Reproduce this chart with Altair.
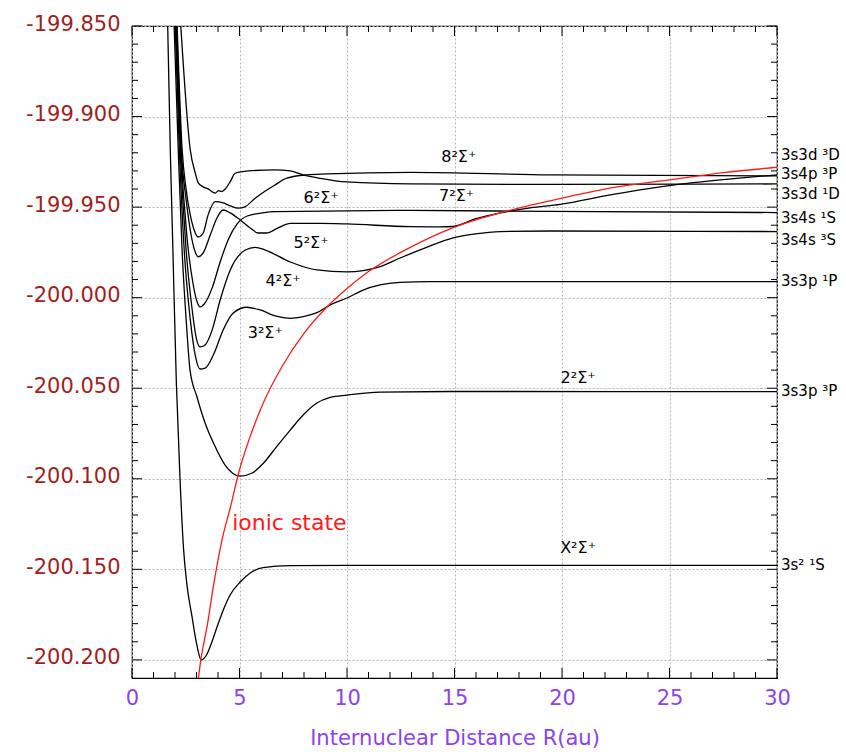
import altair as alt
import pandas as pd

W, H = 645, 652

# ---------------- data ----------------
x_X = [1.66, 1.78, 1.89, 2.06, 2.24, 2.40, 2.55, 2.79, 3.02, 3.22, 3.48, 3.72, 3.95, 4.26, 4.57, 5.03, 5.50, 6.10, 7.36, 10.0, 30.0]
y_X = [-199.850, -199.918, -199.968, -200.046, -200.102, -200.139, -200.158, -200.176, -200.192, -200.200, -200.197, -200.190, -200.182, -200.172, -200.164, -200.157, -200.152, -200.149, -200.148, -200.1478, -200.1478]

x_2 = [1.96, 2.15, 2.33, 2.52, 2.70, 3.02, 3.40, 3.79, 4.33, 5.03, 5.59, 6.12, 6.71, 7.36, 7.96, 8.60, 9.22, 10.0, 11.54, 14.8, 30.0]
y_2 = [-199.850, -199.918, -199.974, -200.0123, -200.040, -200.0547, -200.0692, -200.0803, -200.0924, -200.0985, -200.0968, -200.0913, -200.0825, -200.0731, -200.0648, -200.0582, -200.0551, -200.0538, -200.0521, -200.0518, -200.0519]

x_3 = [2.01, 2.20, 2.43, 2.71, 2.94, 3.17, 3.40, 3.78, 4.24, 4.71, 5.34, 5.96, 6.66, 7.36, 7.96, 8.60, 9.22, 10.0, 10.75, 11.54, 12.47, 13.87, 30.0]
y_3 = [-199.850, -199.918, -199.974, -200.012, -200.0317, -200.0394, -200.0389, -200.0317, -200.0178, -200.0085, -200.0053, -200.0068, -200.0101, -200.0114, -200.0105, -200.0083, -200.0040, -200.0002, -199.9958, -199.9930, -199.9916, -199.9911, -199.9911]

x_4 = [2.03, 2.24, 2.52, 2.80, 2.99, 3.17, 3.40, 3.73, 4.10, 4.57, 5.27, 5.73, 6.20, 7.36, 8.60, 10.0, 10.75, 11.54, 12.47, 13.64, 14.94, 15.96, 17.13, 19.45, 30.0]
y_4 = [-199.850, -199.918, -199.974, -200.0068, -200.0223, -200.0272, -200.0261, -200.0178, -200.0013, -199.9847, -199.9737, -199.9722, -199.9737, -199.9803, -199.9847, -199.9858, -199.9851, -199.9829, -199.9781, -199.9725, -199.9670, -199.9648, -199.9635, -199.9632, -199.9635]

x_5 = [2.06, 2.27, 2.57, 2.85, 3.03, 3.17, 3.36, 3.73, 4.10, 4.47, 4.89, 5.36, 6.06, 6.66, 12.94, 19.45, 30.0]
y_5 = [-199.850, -199.918, -199.968, -199.993, -200.0024, -200.0051, -200.0035, -199.9946, -199.9803, -199.9681, -199.9593, -199.9549, -199.9532, -199.9525, -199.9518, -199.9524, -199.9530]

x_6 = [2.08, 2.29, 2.52, 2.75, 2.94, 3.08, 3.31, 3.64, 3.95, 4.24, 4.57, 5.03, 5.50, 5.87, 6.24, 6.80, 7.36, 8.75, 10.0, 12.94, 14.33, 14.94, 15.96, 17.13, 18.52, 19.92, 22.24, 24.57, 27.36, 30.0]
y_6 = [-199.850, -199.918, -199.946, -199.9654, -199.9748, -199.9774, -199.9753, -199.9654, -199.9560, -199.9516, -199.9532, -199.9571, -199.9615, -199.9643, -199.9643, -199.9615, -199.9590, -199.9590, -199.9593, -199.9608, -199.9609, -199.9607, -199.9565, -199.9532, -199.9504, -199.9485, -199.9433, -199.9388, -199.9350, -199.9322]

x_7 = [2.10, 2.33, 2.52, 2.71, 2.89, 3.08, 3.31, 3.54, 3.87, 4.24, 4.57, 4.94, 5.27, 5.73, 6.20, 6.66, 7.20, 8.13, 9.07, 12.94, 19.45, 30.0]
y_7 = [-199.850, -199.918, -199.9405, -199.9543, -199.9626, -199.9665, -199.9643, -199.9543, -199.9470, -199.9477, -199.9493, -199.9506, -199.9497, -199.9451, -199.9411, -199.9377, -199.9340, -199.9322, -199.9317, -199.9308, -199.9322, -199.9328]

x_8 = [2.27, 2.71, 2.94, 3.09, 3.31, 3.56, 3.87, 4.02, 4.18, 4.33, 4.57, 4.80, 5.42, 6.66, 7.36, 7.96, 8.75, 10.0, 12.94, 19.45, 30.0]
y_8 = [-199.850, -199.9184, -199.9311, -199.9368, -199.9388, -199.9401, -199.9423, -199.9409, -199.9414, -199.9401, -199.9359, -199.9313, -199.9300, -199.9294, -199.9300, -199.9322, -199.9341, -199.9361, -199.9372, -199.9375, -199.9372]

x_ionic = [3.09, 3.20, 3.50, 3.79, 4.20, 4.57, 5.0, 5.5, 6.0, 7.0, 8.0, 9.0, 10.0, 11.0, 12.5, 15.0, 17.5, 20.0, 22.5, 25.0, 27.5, 30.0]
y_ionic = [-200.210, -200.200, -200.181, -200.159, -200.133, -200.116, -200.095, -200.0765, -200.061, -200.0376, -200.0197, -200.006, -199.995, -199.9856, -199.975, -199.961, -199.952, -199.945, -199.939, -199.935, -199.931, -199.928]

state_labels = ["8²Σ⁺", "7²Σ⁺", "6²Σ⁺", "5²Σ⁺", "4²Σ⁺", "3²Σ⁺", "2²Σ⁺", "X²Σ⁺"]
state_x = [15.2, 15.1, 8.8, 8.33, 7.03, 6.2, 20.75, 20.75]
state_y = [-199.9223, -199.9438, -199.945, -199.970, -199.9907, -200.0195, -200.0443, -200.1383]

asym_labels = ["3s3d ³D", "3s4p ³P", "3s3d ¹D", "3s4s ¹S", "3s4s ³S", "3s3p ¹P", "3s3p ³P", "3s² ¹S"]
asym_y = [-199.9212, -199.9317, -199.9425, -199.956, -199.968, -199.9908, -200.0516, -200.1477]

ionic_label = ["ionic state"]
ionic_label_x = [7.32]
ionic_label_y = [-200.1245]

x_major = [0, 5, 10, 15, 20, 25, 30]
x_minor = [i for i in range(1, 30) if i % 5]
y_major = [round(-200.2 + 0.05 * k, 3) for k in range(8)]
y_minor = [round(-200.2 + 0.01 * k, 3) for k in range(1, 35) if k % 5]

# ---------------- tables ----------------
curves = {"X": (x_X, y_X), "2": (x_2, y_2), "3": (x_3, y_3), "4": (x_4, y_4),
          "5": (x_5, y_5), "6": (x_6, y_6), "7": (x_7, y_7), "8": (x_8, y_8)}
rows = []
for name, (xs_, ys_) in curves.items():
    for a, b in zip(xs_, ys_):
        rows.append({"curve": name, "R": a, "E": b})
df_curves = pd.DataFrame(rows)
df_ionic = pd.DataFrame({"R": x_ionic, "E": y_ionic})
df_states = pd.DataFrame({"label": state_labels, "R": state_x, "E": state_y})
df_asym = pd.DataFrame({"label": asym_labels, "E": asym_y})
df_ion_lab = pd.DataFrame({"label": ionic_label, "R": ionic_label_x, "E": ionic_label_y})

xs = alt.Scale(domain=[0, 30], nice=False, zero=False)
ys = alt.Scale(domain=[-200.21, -199.85], nice=False, zero=False)

PURPLE = "#8B44E6"
DARKRED = "#9E1F1F"
FONT = "DejaVu Sans"

x_axis = alt.Axis(values=x_major, grid=True, gridDash=[2, 2], gridColor="#b5b5b5",
                  ticks=False, domain=False, labelColor=PURPLE, labelFont=FONT,
                  labelFontSize=21, labelPadding=9, labelFlush=False,
                  title="Internuclear Distance R(au)", titleColor=PURPLE, titleFont=FONT,
                  titleFontSize=21, titleFontWeight="normal", titlePadding=19)
y_axis = alt.Axis(values=y_major, grid=True, gridDash=[2, 2], gridColor="#b5b5b5",
                  ticks=False, domain=False, labelColor=DARKRED, labelFont=FONT,
                  labelFontSize=21, labelPadding=12, labelFlush=False, labelOffset=-2,
                  labelExpr="replace(format(datum.value, '.3f'), '\u2212', '-')",
                  title="")

X_ENC = dict(scale=xs, axis=x_axis, title="Internuclear Distance R(au)")
Y_ENC = dict(scale=ys, axis=y_axis, title="")

black = alt.Chart(df_curves).mark_line(color="black", strokeWidth=1.3, interpolate="monotone", clip=True).encode(
    x=alt.X("R:Q", **X_ENC),
    y=alt.Y("E:Q", **Y_ENC),
    detail="curve:N",
)
red = alt.Chart(df_ionic).mark_line(color="#ff1a1a", strokeWidth=1.3, interpolate="monotone", clip=True).encode(
    x=alt.X("R:Q", **X_ENC),
    y=alt.Y("E:Q", **Y_ENC),
)
state_text = alt.Chart(df_states).mark_text(font=FONT, fontSize=16, color="black").encode(
    x=alt.X("R:Q", **X_ENC),
    y=alt.Y("E:Q", **Y_ENC),
    text="label:N",
)
asym_text = alt.Chart(df_asym).mark_text(font=FONT, fontSize=15, color="black", align="left", baseline="middle").encode(
    x=alt.value(W + 4),
    y=alt.Y("E:Q", **Y_ENC),
    text="label:N",
)
ion_text = alt.Chart(df_ion_lab).mark_text(font=FONT, fontSize=22, color="#ff1a1a").encode(
    x=alt.X("R:Q", **X_ENC),
    y=alt.Y("E:Q", **Y_ENC),
    text="label:N",
)

def xticks(vals, length):
    d = pd.DataFrame({"R": vals})
    b = alt.Chart(d).mark_rule(color="black", strokeWidth=1).encode(
        x=alt.X("R:Q", **X_ENC), y=alt.value(H), y2=alt.value(H - length))
    t = alt.Chart(d).mark_rule(color="black", strokeWidth=1).encode(
        x=alt.X("R:Q", **X_ENC), y=alt.value(0), y2=alt.value(length))
    return [b, t]

def yticks(vals, length):
    d = pd.DataFrame({"E": vals})
    l = alt.Chart(d).mark_rule(color="black", strokeWidth=1).encode(
        y=alt.Y("E:Q", **Y_ENC), x=alt.value(0), x2=alt.value(length))
    r = alt.Chart(d).mark_rule(color="black", strokeWidth=1).encode(
        y=alt.Y("E:Q", **Y_ENC), x=alt.value(W), x2=alt.value(W - length))
    return [l, r]

tick_layers = xticks(x_major, 10) + xticks(x_minor, 6) + yticks(y_major, 10) + yticks(y_minor, 6)

chart = alt.layer(black, red, state_text, asym_text, ion_text, *tick_layers).properties(
    width=W, height=H,
    padding={"left": 132, "top": 26, "right": 69, "bottom": 74},
    autosize=alt.AutoSizeParams(type="none"),
    background="white",
).configure_view(stroke="black", strokeWidth=1.2)

chart.save("out.html", embed_options={"renderer": "svg", "actions": False})
